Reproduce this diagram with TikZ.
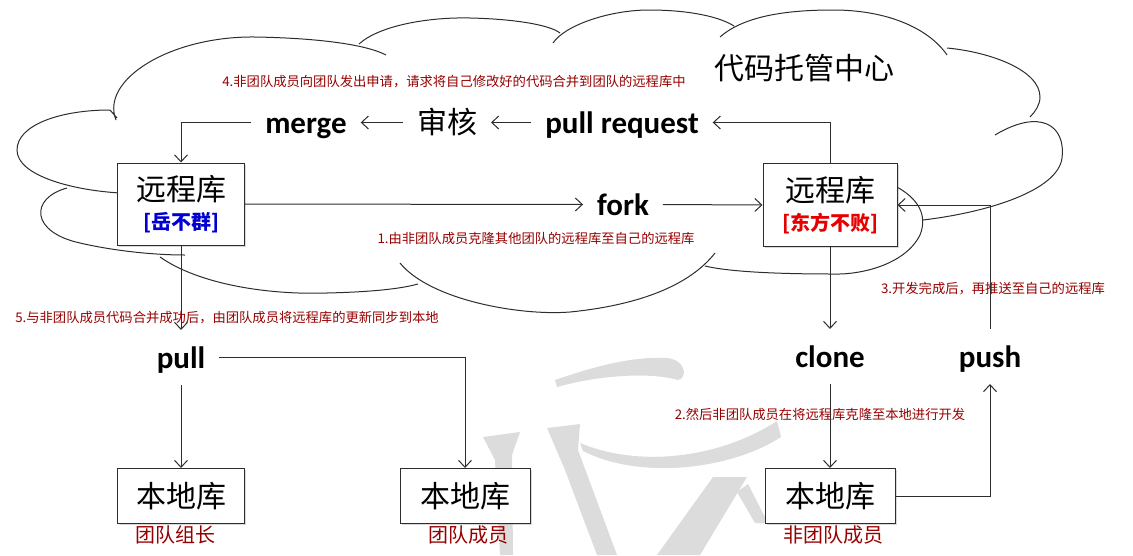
\documentclass[tikz,border=0pt]{standalone}
\usepackage{fontspec}
\setmainfont{Carlito}
\newfontfamily\cjk{Noto Sans CJK SC}
\usetikzlibrary{arrows.meta,shadows}
\definecolor{ink}{RGB}{45,45,45}
\definecolor{notered}{RGB}{150,0,0}
\definecolor{tagblue}{RGB}{0,0,210}
\definecolor{tagred}{RGB}{230,0,0}
\definecolor{wm}{RGB}{220,220,220}
\tikzset{>={Straight Barb[length=7pt,width=13pt]}}
\tikzset{
  repo/.style={draw=ink,fill=white,line width=1pt,align=center,inner sep=0pt,
    font=\cjk\fontsize{30}{32}\selectfont,
    drop shadow={opacity=.3,shadow xshift=1.5pt,shadow yshift=-1.5pt}},
  word/.style={font=\bfseries\fontsize{31}{31}\selectfont,inner sep=0pt,
    text height=24pt,text depth=3pt,anchor=base,outer sep=14pt},
  note/.style={text=notered,font=\cjk\fontsize{13.3}{14}\selectfont,inner sep=0pt},
  who/.style={text=notered,font=\cjk\fontsize{20}{20}\selectfont,inner sep=0pt},
  flow/.style={draw=ink,line width=1pt,->}
}
\newcommand*{\zh}[1]{{\cjk #1}}
\newcommand*{\tagtext}[2]{\textcolor{#1}{\bfseries\fontsize{20}{22}\selectfont #2}}

\begin{document}
\begin{tikzpicture}[x=1pt,y=-1pt]
\useasboundingbox (0,0) rectangle (1133,555);
% watermark
\fill[wm] (555,380) .. controls (590,368) and (630,356) .. (667,358) .. controls (686,360) and (688,378) .. (678,380) .. controls (650,372) and (600,375) .. (557,387) -- cycle;
\fill[wm] (547,428) -- (580,424) -- (578,450) -- (617,555) -- (597,555) -- (565,470) -- cycle;
\fill[wm] (483,437) -- (520,432) -- (512,455) -- (513,555) -- (500,555) -- (495,460) -- cycle;
\fill[wm] (580,443) .. controls (640,468) and (720,458) .. (777,421) -- (781,437) .. controls (730,470) and (640,480) .. (583,451) -- cycle;
\fill[wm] (713,477) -- (747,477) -- (700,555) -- (657,555) -- cycle;
\fill[wm] (737,492) -- (748,484) -- (768,523) -- (755,523) -- cycle;
% cloud
\draw[ink,line width=1pt]
  (117,118) -- (110,110) .. controls (60,110) and (17,125) .. (17,150) .. controls (17,175) and (70,190) .. (120,193)
  (67,188) .. controls (30,198) and (30,232) .. (80,243) .. controls (110,250) and (150,255) .. (185,255)
  (160,257) .. controls (200,285) and (270,295) .. (327,293) .. controls (370,292) and (400,289) .. (418,284)
  (400,263) .. controls (430,300) and (520,316) .. (570,312) .. controls (640,305) and (690,285) .. (715,253)
  (895,186) .. controls (918,198) and (928,215) .. (920,235) .. controls (905,265) and (860,275) .. (833,274) .. controls (780,274) and (730,272) .. (705,266)
  (923,220) .. controls (990,212) and (1058,190) .. (1062,158) .. controls (1066,125) and (1040,108) .. (995,135)
  (947,48) .. controls (990,52) and (1040,70) .. (1040,97) .. controls (1040,105) and (1035,112) .. (1030,117)
  (720,37) .. controls (745,15) and (790,10) .. (833,10) .. controls (890,10) and (930,30) .. (947,55)
  (553,43) .. controls (565,25) and (610,10) .. (649,10) .. controls (690,10) and (720,17) .. (734,26)
  (359,44) .. controls (380,25) and (430,17) .. (470,18) .. controls (515,19) and (550,25) .. (560,33)
  (116,120) .. controls (100,80) and (170,36) .. (255,37) .. controls (315,38) and (365,44) .. (386,55);
\node[font=\cjk\fontsize{30}{30}\selectfont] (hub) at (804,68) {代码托管中心};
% repositories
\node[repo,minimum width=127pt,minimum height=82pt] (remoteA) at (181,204) {远程库\\[-3pt]\tagtext{tagblue}{[岳不群]}};
\node[repo,minimum width=134pt,minimum height=83pt] (remoteB) at (830,205) {远程库\\[-3pt]\tagtext{tagred}{[东方不败]}};
\node[repo,minimum width=127pt,minimum height=55pt] (localA) at (181,496) {本地库};
\node[repo,minimum width=130pt,minimum height=55pt] (localB) at (465,496) {本地库};
\node[repo,minimum width=130pt,minimum height=55pt] (localC) at (830,496) {本地库};
% steps
\node[word] (merge) at (306,133) {merge};
\node[word,font=\cjk\fontsize{30}{30}\selectfont] (audit) at (447,133) {审核};
\node[word] (pullreq) at (622,133) {pull request};
\node[word] (fork) at (623,215) {fork};
\node[word] (pull) at (181,368) {pull};
\node[word] (clone) at (830,367) {clone};
\node[word] (push) at (990,367) {push};
% notes
\node[note] (note4) at (454,82) {4.非团队成员向团队发出申请，请求将自己修改好的代码合并到团队的远程库中};
\node[note] (note1) at (536,238) {1.由非团队成员克隆其他团队的远程库至自己的远程库};
\node[note] (note5) at (227,318) {5.与非团队成员代码合并成功后，由团队成员将远程库的更新同步到本地};
\node[note] (note3) at (993,289) {3.开发完成后，再推送至自己的远程库};
\node[note] (note2) at (820,414) {2.然后非团队成员在将远程库克隆至本地进行开发};
\node[who] (whoA) at (175,535) {团队组长};
\node[who] (whoB) at (468,535) {团队成员};
\node[who] (whoC) at (833,535) {非团队成员};
% arrows
\draw[flow] (merge.west) -| (remoteA.north);
\draw[flow] (audit) -- (merge);
\draw[flow] (pullreq) -- (audit);
\draw[flow] (remoteB.north) |- (pullreq.east);
\draw[flow] (remoteA.east) -- (fork.west);
\draw[flow] (fork.east) -- (remoteB.west);
\draw[flow] (remoteA.south) -- (pull.north);
\draw[flow] (pull.south) -- (localA.north);
\draw[flow] (pull.east) -| (localB.north);
\draw[flow] (remoteB.south) -- (clone.north);
\draw[flow] (clone.south) -- (localC.north);
\draw[flow] (localC.east) -| (push.south);
\draw[flow] (push.north) |- (remoteB.east);
\end{tikzpicture}
\end{document}
